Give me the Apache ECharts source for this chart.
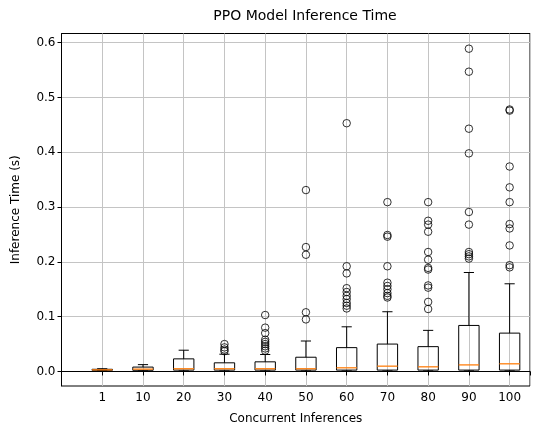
<!DOCTYPE html>
<html>
<head>
<meta charset="utf-8">
<script src="https://cdn.jsdelivr.net/npm/echarts@6/dist/echarts.min.js"></script>
<style>html,body{margin:0;padding:0;background:#fff}#c{width:533px;height:430px}</style>
</head>
<body>
<div id="c"></div>
<script>
var categories = ['1','10','20','30','40','50','60','70','80','90','100'];
var xTickLabels = ['','1','10','20','30','40','50','60','70','80','90','100'];
var yTicks = [0.0,0.1,0.2,0.3,0.4,0.5,0.6];
// [lowerWhisker, Q1, median, Q3, upperWhisker]
var boxStats = [
  [0.0015,0.0022,0.0030,0.0040,0.0050],
  [0.0010,0.0022,0.0043,0.0080,0.0125],
  [0.0010,0.0025,0.0050,0.0230,0.0388],
  [0.0010,0.0025,0.0050,0.0158,0.0315],
  [0.0010,0.0025,0.0050,0.0176,0.0310],
  [0.0010,0.0025,0.0050,0.0260,0.0556],
  [0.0010,0.0025,0.0067,0.0435,0.0815],
  [0.0010,0.0025,0.0097,0.0500,0.1090],
  [0.0010,0.0025,0.0085,0.0453,0.0750],
  [0.0010,0.0025,0.0120,0.0840,0.1806],
  [0.0010,0.0025,0.0140,0.0700,0.1600]
];
var outliers = [
  [],
  [],
  [],
  [0.050,0.044,0.040,0.037],
  [0.103,0.080,0.070,0.058,0.054,0.050,0.046,0.042,0.038],
  [0.331,0.227,0.213,0.108,0.095],
  [0.453,0.192,0.179,0.152,0.145,0.138,0.132,0.125,0.120,0.115],
  [0.309,0.249,0.246,0.192,0.162,0.156,0.150,0.143,0.138,0.135],
  [0.309,0.275,0.268,0.255,0.218,0.204,0.189,0.186,0.157,0.153,0.127,0.114],
  [0.589,0.547,0.443,0.398,0.291,0.268,0.218,0.214,0.210,0.206],
  [0.478,0.476,0.374,0.336,0.309,0.269,0.261,0.230,0.194,0.190]
];

var boxData = boxStats.map(function(s, i){ return [i+1].concat(s); });
var outData = [];
outliers.forEach(function(arr, i){ arr.forEach(function(v){ outData.push([i+1, v]); }); });

var font = 'DejaVu Sans';
var chart = echarts.init(document.getElementById('c'), null, {renderer:'canvas'});
chart.setOption({
  animation: false,
  backgroundColor: '#fff',
  title: {
    text: 'PPO Model Inference Time', left: 300, top: 4, textAlign: 'center',
    textStyle: {fontFamily: font, fontSize: 14, fontWeight: 'normal', color: '#000'}
  },
  grid: {left: 61.5, top: 33.5, width: 477, height: 355, show: true, borderColor: '#000', borderWidth: 1, backgroundColor: 'transparent'},
  xAxis: {
    type: 'value', min: 0, max: 11.5, interval: 1,
    name: 'Concurrent Inferences', nameLocation: 'middle', nameGap: 27,
    nameTextStyle: {fontFamily: font, fontSize: 12, color: '#000'},
    axisLine: {show: true, lineStyle: {color: '#000', width: 1}},
    axisTick: {show: true, length: 4, lineStyle: {color: '#000'}},
    axisLabel: {fontFamily: font, fontSize: 12, color: '#000', margin: 6,
      formatter: function(v){ var k = Math.round(v); return (Math.abs(v-k) < 1e-6 && xTickLabels[k] !== undefined) ? xTickLabels[k] : ''; }},
    splitLine: {show: true, lineStyle: {color: '#c4c4c4', width: 1}}
  },
  yAxis: {
    type: 'value', min: -0.0265, max: 0.6167,
    name: 'Inference Time (s)', nameLocation: 'middle', nameGap: 40, nameRotate: 90,
    nameTextStyle: {fontFamily: font, fontSize: 12, color: '#000'},
    axisLine: {show: true, lineStyle: {color: '#000', width: 1}},
    axisTick: {show: true, length: 4, lineStyle: {color: '#000'}, customValues: yTicks},
    axisLabel: {fontFamily: font, fontSize: 12, color: '#000', margin: 6, customValues: yTicks,
      formatter: function(v){ return v.toFixed(1); }},
    splitLine: {show: true, lineStyle: {color: '#c4c4c4', width: 1}}
  },
  series: [
    {
      type: 'custom',
      data: boxData,
      encode: {x: 0, y: [1,2,3,4,5]},
      z: 3,
      renderItem: function(params, api){
        var x = api.value(0);
        var half = 0.25, capHalf = 0.125;
        var pMin = api.coord([x, api.value(1)]);
        var pQ1 = api.coord([x, api.value(2)]);
        var pMed = api.coord([x, api.value(3)]);
        var pQ3 = api.coord([x, api.value(4)]);
        var pMax = api.coord([x, api.value(5)]);
        var xl = api.coord([x-half, 0])[0], xr = api.coord([x+half, 0])[0];
        var cl = api.coord([x-capHalf, 0])[0], cr = api.coord([x+capHalf, 0])[0];
        var st = {stroke: '#000', lineWidth: 1, fill: null};
        return {
          type: 'group',
          children: [
            {type: 'line', shape: {x1: pQ3[0], y1: pQ3[1], x2: pMax[0], y2: pMax[1]}, style: st},
            {type: 'line', shape: {x1: pQ1[0], y1: pQ1[1], x2: pMin[0], y2: pMin[1]}, style: st},
            {type: 'line', shape: {x1: cl, y1: pMax[1], x2: cr, y2: pMax[1]}, style: st},
            {type: 'line', shape: {x1: cl, y1: pMin[1], x2: cr, y2: pMin[1]}, style: st},
            {type: 'rect', shape: {x: xl, y: pQ3[1], width: xr-xl, height: pQ1[1]-pQ3[1]}, style: {stroke: '#000', lineWidth: 1, fill: 'none'}},
            {type: 'line', shape: {x1: xl, y1: pMed[1], x2: xr, y2: pMed[1]}, style: {stroke: '#ff7f0e', lineWidth: 1.3}}
          ]
        };
      }
    },
    {
      type: 'scatter',
      data: outData,
      symbol: 'circle',
      symbolSize: 7.5,
      z: 4,
      itemStyle: {color: 'rgba(0,0,0,0)', borderColor: '#000', borderWidth: 1}
    }
  ]
});
</script>
</body>
</html>
